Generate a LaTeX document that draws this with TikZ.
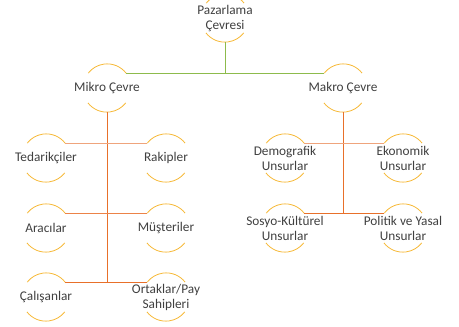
\documentclass[tikz,border=0pt]{standalone}
\usepackage{fontspec}
\setmainfont{Carlito}
\definecolor{arcc}{HTML}{F6B938}
\definecolor{grn}{HTML}{8DBB4C}
\definecolor{org}{HTML}{E8702A}
\definecolor{orgl}{HTML}{EFA47C}
\definecolor{orgm}{HTML}{EC8348}
\definecolor{txt}{HTML}{404040}
\begin{document}
\begin{tikzpicture}[x=1pt,y=1pt,
  ring/.style={circle,draw=none,minimum size=48pt,inner sep=0pt},
  arcst/.style={draw=arcc,line width=0.8pt},
  lab/.style={font=\fontsize{13.3}{15}\selectfont,text=txt,align=center},
  gline/.style={draw=grn,line width=0.9pt},
  oline/.style={draw=org,line width=0.9pt},
  lline/.style={draw=orgl,line width=0.9pt},
  mline/.style={draw=orgm,line width=0.9pt}]
\useasboundingbox (0,0) rectangle (459,-327);
\node[ring,label={[lab]center:Pazarlama\\Çevresi}] (root) at (225,-18) {};
\node[ring,label={[lab]center:Mikro Çevre}] (mikro) at (107,-88) {};
\node[ring,label={[lab]center:Makro Çevre}] (makro) at (343,-88) {};
\node[ring,label={[lab]center:Tedarikçiler}] (ted) at (46,-158) {};
\node[ring,label={[lab]center:Rakipler}] (rak) at (166,-158) {};
\node[ring,label={[lab]center:Aracılar}] (ara) at (46,-228) {};
\node[ring,label={[lab]center:Müşteriler}] (mus) at (166,-228) {};
\node[ring,label={[lab]center:Çalışanlar}] (cal) at (46,-297) {};
\node[ring,label={[lab]center:Ortaklar/Pay\\Sahipleri}] (ort) at (166,-297) {};
\node[ring,label={[lab]center:Demografik\\Unsurlar}] (dem) at (285,-158) {};
\node[ring,label={[lab]center:Ekonomik\\Unsurlar}] (eko) at (403,-158) {};
\node[ring,label={[lab]center:Sosyo-Kültürel\\Unsurlar}] (sos) at (285,-228) {};
\node[ring,label={[lab]center:Politik ve Yasal\\Unsurlar}] (pol) at (403,-228) {};
\foreach \n in {root,mikro,makro,ted,rak,ara,mus,cal,ort,dem,eko,sos,pol}{
  \draw[arcst] (\n.38) arc[start angle=38,end angle=142,radius=24];
  \draw[arcst] (\n.218) arc[start angle=218,end angle=322,radius=24];
}
% top level
\draw[gline] (root.270) -- (root.270 |- mikro.38);
\draw[gline] (mikro.38) -- (makro.142);
% micro
\draw[oline] (mikro.270) -- (mikro.270 |- cal.38);
\draw[lline] (ted.38) -- (rak.142);
\draw[mline] (ara.38) -- (mus.142);
\draw[oline] (cal.38) -- (ort.142);
% macro
\draw[oline] (makro.270) -- (makro.270 |- sos.38);
\draw[lline] (dem.38) -- (eko.142);
\draw[oline] (sos.38) -- (pol.142);
\end{tikzpicture}
\end{document}
